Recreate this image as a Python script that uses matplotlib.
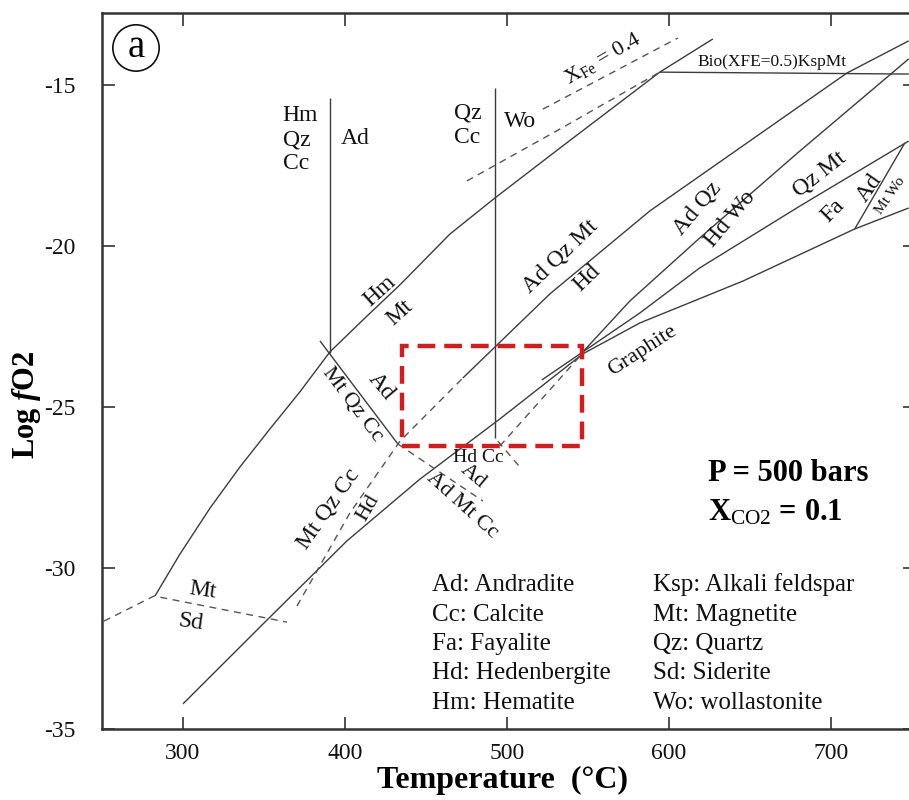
import matplotlib
matplotlib.use('Agg')
import matplotlib.pyplot as plt
from matplotlib.patches import Rectangle

plt.rcParams['font.family'] = ['Liberation Serif', 'DejaVu Serif']
plt.rcParams['mathtext.fontset'] = 'custom'
plt.rcParams['mathtext.rm'] = 'Liberation Serif'
plt.rcParams['mathtext.it'] = 'Liberation Serif:italic'
plt.rcParams['mathtext.bf'] = 'Liberation Serif:bold'
plt.rcParams['mathtext.bfit'] = 'Liberation Serif:italic:bold'
plt.rcParams['axes.unicode_minus'] = False

# ---------------- data (Temperature in C, log fO2) ----------------
hm_mt_T = [282.7, 298.1, 316.7, 335.2, 353.7, 372.2, 390.7, 412.3, 433.9, 464.8, 492.6, 532.7, 594.4, 627.2]
hm_mt_L = [-30.87, -29.57, -28.14, -26.86, -25.68, -24.53, -23.29, -22.24, -21.21, -19.63, -18.51, -16.96, -14.60, -13.57]

ad_v1_T = [390.7, 390.7]
ad_v1_L = [-15.40, -23.32]

wo_v2_T = [492.6, 492.6]
wo_v2_L = [-15.09, -25.96]

ad_mtqzcc_T = [384.6, 432.7]
ad_mtqzcc_L = [-22.95, -26.15]

adqzmt_hd_T = [472.8, 526.5, 588.3, 709.9, 748.1]
adqzmt_hd_L = [-24.10, -21.49, -18.91, -14.63, -13.63]

hd_dash_T = [370.4, 403.1, 434.0, 472.8]
hd_dash_L = [-31.18, -28.29, -26.06, -24.10]

graphite_T = [300.0, 350.6, 401.2, 446.3, 495.7, 546.9, 582.1, 645.7, 714.8, 748.1]
graphite_L = [-34.22, -31.68, -29.16, -27.24, -25.37, -23.35, -22.39, -21.09, -19.47, -18.82]

short_T = [521.6, 546.9]
short_L = [-24.16, -23.29]

adqz_hdwo_T = [546.9, 575.9, 619.1, 680.9, 748.1]
adqz_hdwo_L = [-23.29, -21.71, -19.75, -17.05, -14.19]

qzmt_fa_T = [546.9, 582.1, 619.1, 680.9, 748.1]
qzmt_fa_L = [-23.29, -22.08, -20.68, -18.76, -16.74]

fa_ad_T = [714.8, 745.7]
fa_ad_L = [-19.47, -16.80]

bio_T = [594.4, 748.1]
bio_L = [-14.60, -14.66]

xfe_low_T = [475.3, 532.7, 594.4]
xfe_low_L = [-17.98, -16.37, -14.60]

xfe_up_T = [522.2, 605.6]
xfe_up_L = [-15.75, -13.54]

mt_sd_T = [251.2, 282.1, 364.2]
mt_sd_L = [-31.65, -30.87, -31.68]

ad_admtcc_T = [432.7, 485.2]
ad_admtcc_L = [-26.15, -27.92]

hdcc_T = [494.4, 507.4]
hdcc_L = [-26.06, -26.83]

meta_T = [495.7, 545.1]
meta_L = [-26.21, -23.42]

box_T = [435.2, 546.3]
box_L = [-26.2, -23.1]

x_ticks = [300, 400, 500, 600, 700]
y_ticks = [-35, -30, -25, -20, -15]

legend_left = ["Ad: Andradite", "Cc: Calcite", "Fa: Fayalite", "Hd: Hedenbergite", "Hm: Hematite"]
legend_right = ["Ksp: Alkali feldspar", "Mt: Magnetite", "Qz: Quartz", "Sd: Siderite", "Wo: wollastonite"]
legend_L = [-30.71, -31.65, -32.55, -33.45, -34.38]

# ---------------- figure ----------------
fig = plt.figure(figsize=(9.09, 8.0), dpi=100)
ax = fig.add_axes([102/909, 71/800, 813/909, 716/800])
ax.set_xlim(250, 752)
ax.set_ylim(-35, -35 + 716/32.2)

lc = '#3c3c3c'
solid = dict(color=lc, lw=1.0, solid_capstyle='butt')
dashed = dict(color='#555555', lw=1.0, linestyle=(0, (5, 4)))

ax.plot(hm_mt_T, hm_mt_L, **solid)
ax.plot(ad_v1_T, ad_v1_L, **solid)
ax.plot(wo_v2_T, wo_v2_L, **solid)
ax.plot(ad_mtqzcc_T, ad_mtqzcc_L, **solid)
ax.plot(adqzmt_hd_T, adqzmt_hd_L, **solid)
ax.plot(graphite_T, graphite_L, **solid)
ax.plot(short_T, short_L, **solid)
ax.plot(adqz_hdwo_T, adqz_hdwo_L, **solid)
ax.plot(qzmt_fa_T, qzmt_fa_L, **solid)
ax.plot(fa_ad_T, fa_ad_L, **solid)
ax.plot(bio_T, bio_L, **solid)

ax.plot(hd_dash_T, hd_dash_L, **dashed)
ax.plot(xfe_low_T, xfe_low_L, **dashed)
ax.plot(xfe_up_T, xfe_up_L, **dashed)
ax.plot(mt_sd_T, mt_sd_L, **dashed)
ax.plot(ad_admtcc_T, ad_admtcc_L, **dashed)
ax.plot(hdcc_T, hdcc_L, **dashed)
ax.plot(meta_T, meta_L, **dashed)

ax.add_patch(Rectangle((box_T[0], box_L[0]), box_T[1] - box_T[0], box_L[1] - box_L[0],
                       fill=False, edgecolor='#cc2020', lw=3.2, linestyle=(0, (4, 2)), zorder=5))

# field labels: text, T, L, rotation, size, ha
labels = [
    ("Hm\nQz\nCc", 361.5, -16.7, 0, 17, 'left'),
    ("Ad", 406.2, -16.65, 0, 17, 'center'),
    ("Qz\nCc", 467.5, -16.24, 0, 17, 'left'),
    ("Wo", 508.0, -16.12, 0, 17, 'center'),
    ("Hm", 421.6, -21.4, 42, 17, 'center'),
    ("Mt", 434.0, -22.08, 42, 17, 'center'),
    ("Ad", 422.3, -24.35, -50, 17, 'center'),
    ("Mt Qz Cc", 404.9, -24.91, -53, 16, 'center'),
    ("Ad Qz Mt", 532.7, -20.31, 44, 17, 'center'),
    ("Hd", 549.4, -21.0, 44, 17, 'center'),
    ("Ad Qz", 617.3, -18.82, 50, 17, 'center'),
    ("Hd Wo", 637.7, -19.16, 50, 17, 'center'),
    ("Qz Mt", 693.2, -17.76, 38, 17, 'center'),
    ("Fa", 701.2, -18.91, 45, 17, 'center'),
    ("Ad", 724.1, -18.2, 55, 17, 'center'),
    ("Mt Wo", 737.0, -18.45, 55, 11, 'center'),
    ("Graphite", 584.0, -23.26, 33, 16, 'center'),
    ("Hd Cc", 482.7, -26.58, 0, 14, 'center'),
    ("Ad", 479.0, -27.14, -40, 16, 'center'),
    ("Ad Mt Cc", 472.2, -28.07, -42, 16, 'center'),
    ("Mt Qz Cc", 389.5, -28.17, 55, 17, 'center'),
    ("Hd", 414.2, -28.14, 60, 16, 'center'),
    ("Mt", 312.3, -30.71, -8, 17, 'center'),
    ("Sd", 304.9, -31.68, -8, 17, 'center'),
    ("Bio(XFE=0.5)KspMt", 663.6, -14.29, 0, 12.5, 'center'),
]
for txt, t, l, rot, size, ha in labels:
    ax.text(t, l, txt, rotation=rot, fontsize=size, ha=ha, va='center',
            rotation_mode='anchor', color='#111111', linespacing=1.2, zorder=6)

ax.text(559.3, -14.19, r'$\mathrm{X}_{\mathrm{Fe}}$ = 0.4', rotation=30, fontsize=16,
        ha='center', va='center', rotation_mode='anchor', color='#111111')

ax.text(271.0, -13.85, 'a', fontsize=28, ha='center', va='center',
        bbox=dict(boxstyle='circle,pad=0.12', fc='white', ec='#111111', lw=1.2))

ax.text(624.1, -27.05, 'P = 500 bars', fontsize=22, fontweight='bold', ha='left', va='center')
ax.text(624.1, -28.29, r'$\mathbf{X}_{\mathrm{CO2}}$ = 0.1', fontsize=22, fontweight='bold',
        ha='left', va='center')

for txt, l in zip(legend_left, legend_L):
    ax.text(453.7, l, txt, fontsize=18, ha='left', va='baseline', color='#111111')
for txt, l in zip(legend_right, legend_L):
    ax.text(590.1, l, txt, fontsize=18, ha='left', va='baseline', color='#111111')

# axes styling
ax.set_xticks(x_ticks)
ax.set_yticks(y_ticks)
ax.set_xticklabels([str(v) for v in x_ticks])
ax.set_yticklabels([str(v) for v in y_ticks])
ax.tick_params(axis='both', direction='in', length=9, width=1.2, colors='#333333',
               top=True, right=True, labelsize=17, labelcolor='#111111')
ax.tick_params(axis='y', pad=19)
ax.tick_params(axis='x', pad=10)
for s in ax.spines.values():
    s.set_linewidth(1.8)
    s.set_color('#333333')

ax.set_xlabel('Temperature  (°C)', fontsize=23, fontweight='bold')
ax.xaxis.set_label_coords(0.493, -0.052)
ax.set_ylabel(r'Log $\mathbfit{f}$O2', fontsize=22, fontweight='bold')
ax.yaxis.set_label_coords(-0.073, 0.453)

fig.savefig('out.png', dpi=100)
